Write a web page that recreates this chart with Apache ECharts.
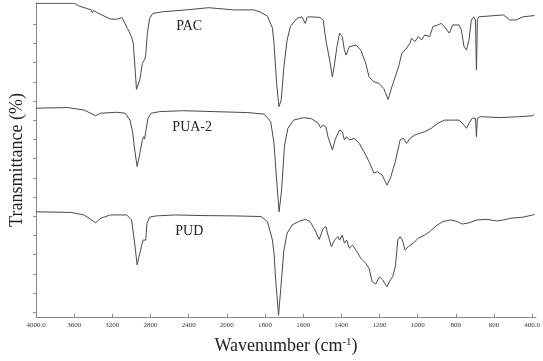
<!DOCTYPE html>
<html>
<head>
<meta charset="utf-8">
<script src="https://cdn.jsdelivr.net/npm/echarts@6/dist/echarts.min.js"></script>
<style>
html, body { margin: 0; padding: 0; background: #fff; }
#main { width: 543px; height: 361px; }
</style>
</head>
<body>
<div id="main"></div>
<script>
// x tick marks (cm-1) and their printed labels
var tickWaves = [4000, 3600, 3200, 2800, 2400, 2000, 1800, 1600, 1400, 1200, 1000, 800, 600, 400];
var tickLabels = ['4000.0', '3600', '3200', '2800', '2400', '2000', '1800', '1600', '1400', '1200', '1000', '800', '600', '400.0'];

// curve names and where their labels sit [wavenumber, transmittance]
var names = ['PAC', 'PUA-2', 'PUD'];
var labelWaves = [2394, 2363, 2394];
var labelT = [92.7, 60.5, 27.4];

// spectra: [wavenumber, transmittance (stacked, a.u.)]
var pac = [
    [4000, 99.9], [3598, 99.9], [3547, 99.0], [3420, 97.8], [3410, 96.9], [3398, 97.6], [3359, 96.9],
    [3221, 94.9], [3153, 94.8], [3101, 95.4], [3076, 94.0], [3042, 91.9], [3032, 92.4], [3027, 91.1],
    [2998, 89.1], [2981, 87.2], [2963, 79.7], [2947, 72.5], [2912, 75.5], [2885, 80.8], [2860, 82.1],
    [2850, 83.4], [2833, 90.4], [2809, 95.1], [2775, 96.7], [2672, 97.2], [2432, 97.8], [2191, 98.5],
    [1959, 97.8], [1856, 97.8], [1821, 97.0], [1787, 95.8], [1761, 92.0], [1753, 87.2], [1739, 74.4],
    [1727, 67.0], [1715, 69.1], [1701, 79.7], [1684, 88.2], [1667, 92.5], [1632, 95.1], [1606, 95.6],
    [1598, 95.5], [1589, 93.5], [1579, 95.5], [1564, 95.6], [1512, 95.4], [1495, 94.6], [1486, 90.4],
    [1478, 87.2], [1461, 81.8], [1447, 76.5], [1435, 80.8], [1423, 86.1], [1409, 90.4], [1395, 89.3],
    [1384, 85.0], [1375, 83.4], [1358, 86.1], [1323, 86.6], [1298, 85.0], [1272, 80.8], [1255, 76.5],
    [1229, 74.9], [1203, 74.4], [1178, 72.8], [1155, 69.3], [1135, 73.3], [1100, 79.7], [1083, 84.0],
    [1066, 85.0], [1040, 87.2], [1032, 88.8], [1014, 87.7], [997, 89.3], [980, 88.2], [963, 89.8],
    [937, 89.3], [920, 92.5], [894, 93.0], [877, 93.5], [860, 92.5], [834, 90.4], [817, 93.0],
    [783, 93.0], [771, 91.4], [757, 86.1], [744, 85.0], [731, 88.2], [719, 94.6], [706, 95.6],
    [697, 94.6], [692, 78.7], [687, 94.6], [680, 95.6], [672, 96.2], [551, 96.2], [517, 94.6],
    [483, 94.6], [448, 95.6], [388, 96.0]
];
var pua = [
    [4000, 66.5], [3667, 66.7], [3496, 65.9], [3427, 64.9], [3375, 64.1], [3324, 64.9], [3153, 65.2],
    [3066, 64.9], [3015, 62.7], [2988, 59.0], [2963, 52.6], [2940, 47.9], [2912, 52.1], [2885, 56.4],
    [2871, 57.4], [2862, 56.7], [2850, 59.0], [2826, 63.3], [2792, 64.9], [2706, 65.4], [2466, 65.7],
    [2123, 65.4], [1890, 65.1], [1804, 64.6], [1770, 62.2], [1753, 55.4], [1738, 42.7], [1726, 33.5],
    [1713, 40.4], [1698, 54.5], [1680, 60.1], [1650, 62.7], [1598, 63.5], [1555, 63.1], [1521, 61.7],
    [1509, 60.3], [1495, 61.1], [1481, 60.6], [1470, 57.4], [1447, 53.2], [1430, 56.9], [1409, 59.6],
    [1395, 59.0], [1384, 56.4], [1372, 57.4], [1358, 56.4], [1332, 56.9], [1306, 55.3], [1281, 52.6],
    [1255, 49.5], [1229, 45.8], [1212, 46.3], [1186, 45.2], [1161, 42.0], [1143, 44.2], [1117, 49.5],
    [1092, 56.4], [1075, 56.9], [1058, 55.3], [1040, 56.9], [1014, 58.0], [989, 58.5], [963, 59.0],
    [929, 60.1], [894, 61.7], [860, 62.7], [826, 62.7], [783, 62.7], [757, 61.1], [744, 60.1],
    [731, 61.7], [714, 63.3], [697, 63.3], [692, 57.4], [687, 63.3], [672, 63.8], [569, 63.5],
    [466, 63.8], [397, 64.1], [388, 64.6]
];
var pud = [
    [4000, 33.5], [3632, 33.3], [3496, 32.5], [3427, 31.1], [3375, 30.0], [3324, 31.4], [3221, 32.5],
    [3050, 32.5], [2998, 30.9], [2970, 24.5], [2940, 16.6], [2912, 20.3], [2878, 24.5], [2860, 25.1],
    [2850, 24.5], [2837, 29.8], [2809, 31.8], [2741, 32.2], [2535, 32.5], [2260, 32.3], [1959, 32.2],
    [1821, 32.0], [1787, 30.4], [1761, 24.5], [1752, 19.7], [1744, 11.8], [1729, 0.5], [1718, 8.6],
    [1701, 21.3], [1684, 26.7], [1658, 29.3], [1624, 30.4], [1589, 31.1], [1564, 30.4], [1538, 27.7],
    [1516, 24.7], [1495, 28.2], [1481, 28.8], [1470, 26.1], [1452, 22.4], [1435, 24.5], [1418, 25.6],
    [1409, 24.5], [1395, 26.1], [1384, 23.5], [1372, 24.5], [1358, 21.9], [1341, 22.9], [1323, 21.3],
    [1298, 18.7], [1272, 17.1], [1255, 15.5], [1238, 11.2], [1220, 10.5], [1200, 12.8], [1183, 11.8],
    [1161, 9.6], [1143, 11.8], [1131, 12.8], [1117, 16.0], [1104, 24.5], [1092, 25.6], [1080, 24.5],
    [1066, 21.3], [1049, 22.4], [1023, 23.5], [997, 25.1], [963, 26.1], [937, 27.2], [903, 29.0],
    [869, 30.4], [826, 30.9], [792, 30.4], [766, 29.6], [731, 30.0], [689, 30.9], [637, 31.1],
    [586, 30.6], [551, 30.9], [517, 31.4], [448, 31.8], [397, 32.5], [388, 32.6]
];

// the axis is drawn at half scale above 2000 cm-1 (400 per division, 200 below)
function pos(w) {
    return w >= 2000 ? (4000 - w) / 400 : 5 + (2000 - w) / 200;
}

var myChart = echarts.init(document.getElementById('main'));

var xTicks = tickWaves.map(pos);
var yTicks = [];
for (var k = 0; k < 16; k++) {
    yTicks.push(1.5 + k * 6.115);
}

var spectra = [pac, pua, pud];
var series = [];
for (var i = 0; i < spectra.length; i++) {
    series.push({
        name: names[i],
        type: 'line',
        showSymbol: false,
        silent: true,
        lineStyle: { color: '#4a4a4a', width: 1 },
        data: spectra[i].map(function (p) { return [pos(p[0]), p[1]]; }),
        markPoint: {
            symbol: 'circle',
            symbolSize: 0,
            silent: true,
            data: [{
                coord: [pos(labelWaves[i]), labelT[i]],
                label: {
                    show: true,
                    position: 'inside',
                    formatter: names[i],
                    fontFamily: 'Liberation Serif',
                    fontSize: 14,
                    color: '#222'
                }
            }]
        }
    });
}

var option = {
    animation: false,
    backgroundColor: '#fff',
    grid: { left: 31, right: 3, top: 3, bottom: 44 },
    xAxis: {
        type: 'value',
        min: 0,
        max: 13.1,
        name: 'Wavenumber (cm{sup|-1})',
        nameLocation: 'middle',
        nameGap: 20,
        nameTextStyle: {
            fontFamily: 'Liberation Serif',
            fontSize: 18,
            color: '#222',
            rich: {
                sup: { fontFamily: 'Liberation Serif', fontSize: 11, verticalAlign: 'top', color: '#222' }
            }
        },
        axisLine: { show: true, lineStyle: { color: '#888', width: 1 } },
        axisTick: { show: true, inside: true, length: 3, customValues: xTicks, lineStyle: { color: '#888' } },
        axisLabel: {
            customValues: xTicks,
            showMinLabel: true,
            showMaxLabel: true,
            margin: 5,
            fontFamily: 'Liberation Serif',
            fontSize: 7,
            color: '#333',
            formatter: function (v) {
                for (var j = 0; j < xTicks.length; j++) {
                    if (Math.abs(xTicks[j] - v) < 1e-6) return tickLabels[j];
                }
                return '';
            }
        },
        splitLine: { show: false }
    },
    yAxis: {
        type: 'value',
        min: 0,
        max: 100,
        name: 'Transmittance (%)',
        nameLocation: 'middle',
        nameGap: 10,
        nameTextStyle: { fontFamily: 'Liberation Serif', fontSize: 18, color: '#222' },
        axisLine: { show: true, lineStyle: { color: '#888', width: 1 } },
        axisTick: { show: true, inside: false, length: 3, customValues: yTicks, lineStyle: { color: '#888' } },
        axisLabel: { show: false },
        splitLine: { show: false }
    },
    series: series
};
myChart.setOption(option);
</script>
</body>
</html>
